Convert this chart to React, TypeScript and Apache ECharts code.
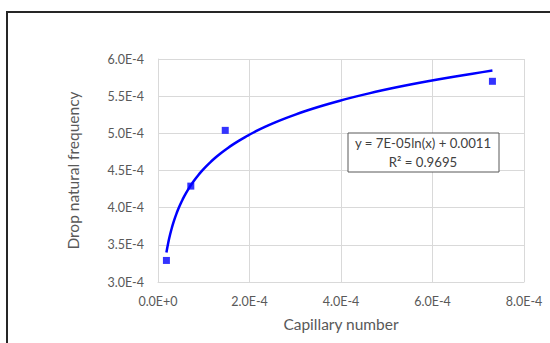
import React, { useEffect, useRef } from "react";
import * as echarts from "echarts";

const capillaryNumber = [1.84e-5, 7.17e-5, 1.47e-4, 7.31e-4];
const dropFrequency = [3.29e-4, 4.29e-4, 5.04e-4, 5.7e-4];
const xTickLabels = ["0.0E+0", "2.0E-4", "4.0E-4", "6.0E-4", "8.0E-4"];
const yTickLabels = ["3.0E-4", "3.5E-4", "4.0E-4", "4.5E-4", "5.0E-4", "5.5E-4", "6.0E-4"];
const equationLines = ["y = 7E-05ln(x) + 0.0011", "R² = 0.9695"];
const xTitle = "Capillary number";
const yTitle = "Drop natural frequency";

const FONT = "Lato";

function logFit(xs: number[], ys: number[]) {
  const lx = xs.map((v) => Math.log(v));
  const n = xs.length;
  const mx = lx.reduce((a, b) => a + b, 0) / n;
  const my = ys.reduce((a, b) => a + b, 0) / n;
  let sxy = 0;
  let sxx = 0;
  for (let i = 0; i < n; i++) {
    sxy += (lx[i] - mx) * (ys[i] - my);
    sxx += (lx[i] - mx) * (lx[i] - mx);
  }
  const a = sxy / sxx;
  const b = my - a * mx;
  return { a, b };
}

export default function App() {
  const ref = useRef<HTMLDivElement>(null);
  useEffect(() => {
    document.body.style.margin = "0";
    if (!ref.current) return;
    const chart = echarts.init(ref.current, undefined, { renderer: "svg" });
    const { a, b } = logFit(capillaryNumber, dropFrequency);
    const xmin = Math.min(...capillaryNumber);
    const xmax = Math.max(...capillaryNumber);
    const trend: number[][] = [];
    const steps = 120;
    for (let i = 0; i <= steps; i++) {
      const x = Math.exp(Math.log(xmin) + ((Math.log(xmax) - Math.log(xmin)) * i) / steps);
      trend.push([x, a * Math.log(x) + b]);
    }
    chart.setOption({
      animation: false,
      backgroundColor: "#ffffff",
      grid: { left: 158, right: 26, top: 59, bottom: 61, containLabel: false },
      xAxis: {
        type: "value",
        min: 0,
        max: 8e-4,
        interval: 2e-4,
        name: xTitle,
        nameLocation: "middle",
        nameGap: 34,
        nameTextStyle: { color: "#595959", fontSize: 15.5, fontFamily: FONT },
        axisLine: { show: true, lineStyle: { color: "#d9d9d9" } },
        axisTick: { show: false },
        axisLabel: {
          color: "#595959",
          fontSize: 12.5,
          fontFamily: FONT,
          margin: 13,
          formatter: (v: number) => xTickLabels[Math.round(v / 2e-4)] ?? "",
        },
        splitLine: { show: true, lineStyle: { color: "#d9d9d9" } },
      },
      yAxis: {
        type: "value",
        min: 3e-4,
        max: 6e-4,
        interval: 0.5e-4,
        name: yTitle,
        nameLocation: "middle",
        nameGap: 77,
        nameTextStyle: { color: "#595959", fontSize: 15.5, fontFamily: FONT },
        axisLine: { show: true, lineStyle: { color: "#d9d9d9" } },
        axisTick: { show: false },
        axisLabel: {
          color: "#595959",
          fontSize: 12.5,
          fontFamily: FONT,
          margin: 14,
          formatter: (v: number) => yTickLabels[Math.round((v - 3e-4) / 0.5e-4)] ?? "",
        },
        splitLine: { show: true, lineStyle: { color: "#d9d9d9" } },
      },
      series: [
        {
          type: "line",
          data: trend,
          showSymbol: false,
          symbol: "none",
          lineStyle: { color: "#0000ff", width: 2.5 },
          z: 2,
        },
        {
          type: "scatter",
          data: capillaryNumber.map((x, i) => [x, dropFrequency[i]]),
          symbol: "rect",
          symbolSize: 7,
          itemStyle: { color: "#0000ff" },
          z: 3,
        },
      ],
      graphic: [
        {
          type: "rect",
          shape: { x: 7, y: 12, width: 700, height: 500 },
          style: { fill: "none", stroke: "#262626", lineWidth: 2 },
          z: 10,
        },
        {
          type: "rect",
          shape: { x: 348, y: 133, width: 151, height: 39 },
          style: { fill: "#ffffff", stroke: "#595959", lineWidth: 1 },
          z: 20,
        },
        {
          type: "text",
          x: 423,
          y: 143,
          style: {
            text: equationLines[0],
            fill: "#404040",
            fontSize: 13.2,
            fontFamily: FONT,
            align: "center",
            verticalAlign: "middle",
          },
          z: 21,
        },
        {
          type: "text",
          x: 423,
          y: 162,
          style: {
            text: equationLines[1],
            fill: "#404040",
            fontSize: 13.2,
            fontFamily: FONT,
            align: "center",
            verticalAlign: "middle",
          },
          z: 21,
        },
      ],
    });
    return () => chart.dispose();
  }, []);
  return <div ref={ref} style={{ width: 550, height: 343 }} />;
}
